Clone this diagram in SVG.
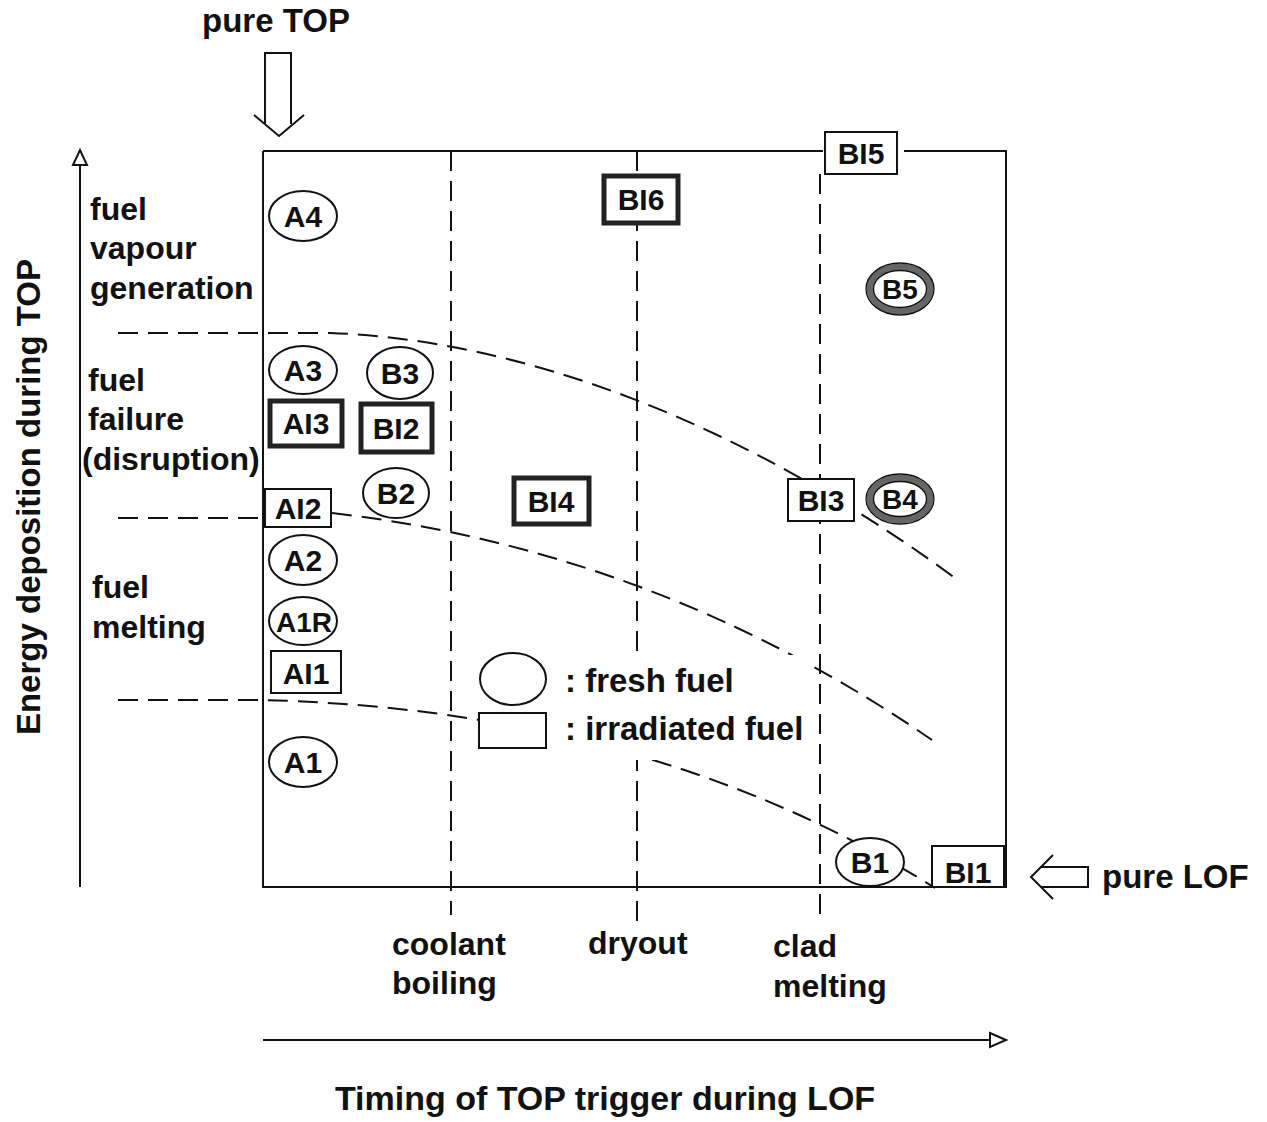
<svg xmlns="http://www.w3.org/2000/svg" width="1267" height="1122" viewBox="0 0 1267 1122">
<style>
text{font-family:"Liberation Sans",Arial,sans-serif;font-weight:bold;fill:#111}
.lbl{font-size:32px}
.nl{font-size:30px;text-anchor:middle}
.ax{stroke:#111;stroke-width:2;fill:none}
.dash{stroke:#111;stroke-width:2;fill:none;stroke-dasharray:20 10}
.fresh{fill:#fff;stroke:#111;stroke-width:2}
.irr{fill:#fff;stroke:#111;stroke-width:2}
.irrT{fill:#fff;stroke:#222;stroke-width:5}
.ring{fill:none;stroke:#666;stroke-width:7}
.ringEdge{fill:none;stroke:#111;stroke-width:1.3}
</style>
<rect width="1267" height="1122" fill="#fff"/>

<g id="frame">
<path class="ax" d="M263,151 H823 M904,151 H1006 V887 H263 V151"/>
</g>

<g id="connectors">
<path class="dash" d="M451,151 V915"/>
<path class="dash" d="M637,151 V930"/>
<path class="dash" d="M820,174 V918"/>
<path class="dash" d="M118,333 H330 C520,340 740,420 955,578"/>
<path class="dash" d="M118,518 H263 M332,513 C480,530 700,580 932,740"/>
<path class="dash" d="M118,700 H263 C450,705 700,740 935,888"/>
</g>

<g id="y-axis">
<path class="ax" d="M80,887 V165"/>
<path class="ax" d="M73,165 L80,150 L87,165 Z"/>
<text transform="translate(40,497) rotate(-90)" text-anchor="middle" style="font-size:33px">Energy deposition during TOP</text>
</g>
<g id="x-axis">
<path class="ax" d="M263,1040 H990"/>
<path class="ax" d="M990,1033 L1006,1040 L990,1047 Z"/>
<text x="605" y="1110" text-anchor="middle" style="font-size:34px">Timing of TOP trigger during LOF</text>
</g>

<g id="pure-top">
<text x="276" y="32" text-anchor="middle" style="font-size:33px">pure TOP</text>
<path class="ax" d="M254,115 L279,136 L304,115 M265,124 V53 H291 V124"/>
</g>
<g id="pure-lof">
<path class="ax" d="M1053,855 L1031,877 L1053,899 M1041,867 H1088 V887 H1041"/>
<text x="1102" y="888" style="font-size:33px">pure LOF</text>
</g>

<g id="region-labels">
<text class="lbl" x="90" y="220">fuel</text>
<text class="lbl" x="90" y="259">vapour</text>
<text class="lbl" x="90" y="299">generation</text>
<text class="lbl" x="88" y="391">fuel</text>
<text class="lbl" x="88" y="430">failure</text>
<text class="lbl" x="82" y="470">(disruption)</text>
<text class="lbl" x="92" y="598">fuel</text>
<text class="lbl" x="92" y="638">melting</text>
</g>

<g id="phase-labels">
<text class="lbl" x="392" y="955">coolant</text>
<text class="lbl" x="392" y="994">boiling</text>
<text class="lbl" x="588" y="954">dryout</text>
<text class="lbl" x="773" y="957">clad</text>
<text class="lbl" x="773" y="997">melting</text>
</g>

<g id="A4"><ellipse class="fresh" cx="303" cy="216" rx="34" ry="25"/><text class="nl" x="303" y="227">A4</text></g>
<g id="A3"><ellipse class="fresh" cx="303" cy="370" rx="34" ry="24"/><text class="nl" x="303" y="381">A3</text></g>
<g id="B3"><ellipse class="fresh" cx="400" cy="373" rx="33" ry="26"/><text class="nl" x="400" y="384">B3</text></g>
<g id="AI3"><rect class="irrT" x="270" y="401" width="72" height="45"/><text class="nl" x="306" y="434">AI3</text></g>
<g id="BI2"><rect class="irrT" x="361" y="404" width="71" height="48"/><text class="nl" x="396" y="439">BI2</text></g>
<g id="BI6"><rect class="irrT" x="604" y="176" width="74" height="47"/><text class="nl" x="641" y="210">BI6</text></g>
<g id="BI5"><rect class="irr" x="825" y="132" width="72" height="42"/><text class="nl" x="861" y="164">BI5</text></g>
<g id="B5"><ellipse fill="#fff" cx="900" cy="289" rx="34" ry="26"/><ellipse class="ring" cx="900" cy="289" rx="30" ry="22"/><ellipse class="ringEdge" cx="900" cy="289" rx="34" ry="26"/><ellipse class="ringEdge" cx="900" cy="289" rx="26.5" ry="18.5"/><text class="nl" x="900" y="299" style="font-size:28px">B5</text></g>
<g id="BI3"><rect class="irr" x="788" y="479" width="66" height="42"/><text class="nl" x="821" y="511">BI3</text></g>
<g id="B4"><ellipse fill="#fff" cx="900" cy="499" rx="34" ry="25"/><ellipse class="ring" cx="900" cy="499" rx="30" ry="21"/><ellipse class="ringEdge" cx="900" cy="499" rx="34" ry="25"/><ellipse class="ringEdge" cx="900" cy="499" rx="26.5" ry="17.5"/><text class="nl" x="900" y="509" style="font-size:28px">B4</text></g>
<g id="AI2"><rect class="irr" x="265" y="489" width="66" height="38"/><text class="nl" x="298" y="519">AI2</text></g>
<g id="B2"><ellipse class="fresh" cx="396" cy="493" rx="33" ry="25"/><text class="nl" x="396" y="504">B2</text></g>
<g id="BI4"><rect class="irrT" x="514" y="478" width="75" height="46"/><text class="nl" x="551" y="512">BI4</text></g>
<g id="A2"><ellipse class="fresh" cx="303" cy="560" rx="34" ry="25"/><text class="nl" x="303" y="571">A2</text></g>
<g id="A1R"><ellipse class="fresh" cx="303" cy="621" rx="34" ry="24"/><text class="nl" x="304" y="632" style="font-size:28px">A1R</text></g>
<g id="AI1"><rect class="irr" x="271" y="651" width="70" height="42"/><text class="nl" x="306" y="684">AI1</text></g>
<g id="A1"><ellipse class="fresh" cx="303" cy="762" rx="34" ry="25"/><text class="nl" x="303" y="773">A1</text></g>
<g id="B1"><ellipse class="fresh" cx="870" cy="862" rx="34" ry="24"/><text class="nl" x="870" y="873">B1</text></g>
<g id="BI1"><rect class="irr" x="932" y="846" width="72" height="41"/><text class="nl" x="968" y="883">BI1</text></g>

<g id="legend">
<rect x="547" y="655" width="263" height="98" fill="#fff"/>
<rect x="547" y="700" width="114" height="60" fill="#fff"/>
<ellipse class="fresh" cx="513" cy="679" rx="33" ry="26"/>
<rect class="irr" x="479" y="713" width="67" height="35"/>
<text x="565" y="692" style="font-size:33px">: fresh fuel</text>
<text x="565" y="740" style="font-size:33px">: irradiated fuel</text>
</g>
</svg>
